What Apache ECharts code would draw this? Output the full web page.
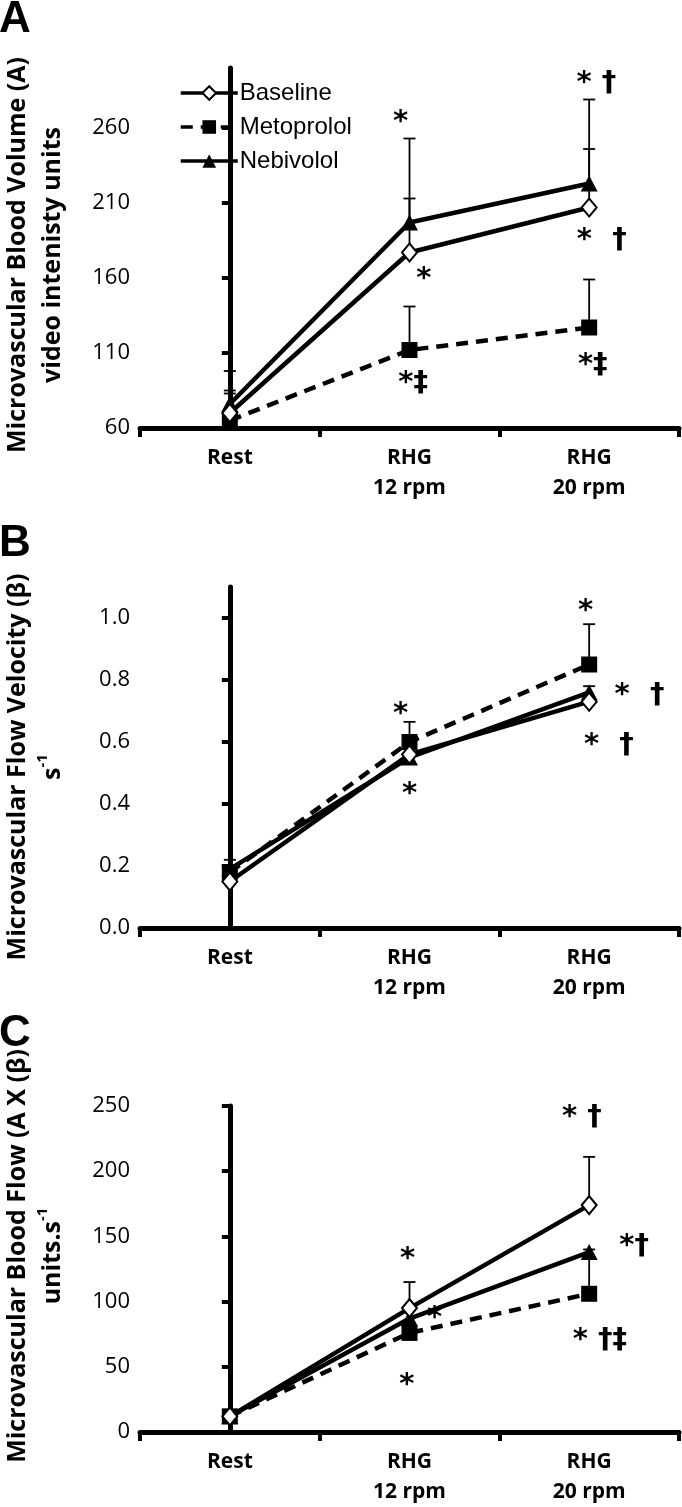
<!DOCTYPE html>
<html>
<head>
<meta charset="utf-8">
<script src="https://cdn.jsdelivr.net/npm/echarts@6/dist/echarts.min.js"></script>
<style>
  html, body { margin: 0; padding: 0; background: #fff; }
  #myChart { width: 682px; height: 1507px; }
</style>
</head>
<body>
<div id="myChart"></div>
<script>
const categories = ['Rest', 'RHG\n12 rpm', 'RHG\n20 rpm'];
const seriesNames = ['Baseline', 'Metoprolol', 'Nebivolol'];

// A - microvascular blood volume
const volBaseline = [70, 177, 207];
const volMetoprolol = [65, 112, 127];
const volNebivolol = [76, 197, 223];
// top of error bars
const volBaselineErr = [85, 213, 246];
const volMetoprololErr = [83, 141, 159];
const volNebivololErr = [98, 253, 279];
const volTicks = [60, 110, 160, 210, 260];

// B - microvascular flow velocity
const velBaseline = [0.15, 0.56, 0.73];
const velMetoprolol = [0.18, 0.60, 0.85];
const velNebivolol = [0.19, 0.55, 0.76];
const velMetoprololErr = [0.22, 0.665, 0.98];
const velNebivololErr = [null, null, 0.78];
const velTicks = [0, 0.2, 0.4, 0.6, 0.8, 1.0];

// C - microvascular blood flow
const flowBaseline = [12, 95, 174];
const flowMetoprolol = [12, 76, 106];
const flowNebivolol = [12, 87, 138];
const flowBaselineErr = [null, 115, 211];
const flowMetoprololErr = [null, null, 140];
const flowTicks = [0, 50, 100, 150, 200, 250];

// significance marks: [position along categories (0 = Rest), value, text]
const marksA = [[0.95, 264, '*'], [1.08, 159, '*'], [1.02, 90, '*‡'], [2.04, 290, '* †'], [2.07, 185, '*  †'], [2.02, 102, '*‡']];
const marksB = [[0.95, 0.69, '*'], [1.0, 0.43, '*'], [1.98, 1.02, '*'], [2.28, 0.75, '*  †'], [2.11, 0.59, '*  †']];
const marksC = [[0.99, 132, '*'], [1.14, 87, '*'], [0.985, 36, '*'], [1.96, 241, '* †'], [2.25, 142, '*†'], [2.06, 70, '* †‡']];

const font = 'Open Sans';
const black = '#000';

const grids = [
  { left: 140, right: 3, top: 68, height: 360 },
  { left: 140, right: 3, top: 587, height: 341 },
  { left: 140, right: 3, top: 1106, height: 326 }
];

function catAxis(i) {
  return {
    type: 'category', gridIndex: i, data: categories, boundaryGap: true,
    axisLine: { lineStyle: { color: black, width: 5 } },
    axisTick: { show: true, length: 9, lineStyle: { color: black, width: 4 } },
    axisLabel: { color: black, fontFamily: font, fontWeight: 'bold', fontSize: 21, lineHeight: 30, margin: 15 }
  };
}
function markAxis(i) {
  return { type: 'value', gridIndex: i, min: -0.5, max: 2.5, show: false };
}
function valAxis(i, min, max, ticks, fmt) {
  return {
    type: 'value', gridIndex: i, min: min, max: max,
    splitLine: { show: false },
    axisLine: { show: true, lineStyle: { color: black, width: 5 } },
    axisTick: { show: true, length: 8, customValues: ticks, lineStyle: { color: black, width: 4 } },
    axisLabel: { color: black, fontFamily: font, fontSize: 22, margin: 10, customValues: ticks, formatter: fmt }
  };
}

function lineSeries(name, data, i) {
  const s = {
    name: name, type: 'line', data: data, xAxisIndex: i, yAxisIndex: i, z: 3,
    lineStyle: { color: black, width: 4.5 },
    itemStyle: { color: black }
  };
  if (name === 'Baseline') {
    s.symbol = 'diamond'; s.symbolSize = [15, 18];
    s.itemStyle = { color: '#fff', borderColor: black, borderWidth: 2 };
    s.z = 4;
  } else if (name === 'Metoprolol') {
    s.symbol = 'rect'; s.symbolSize = 16;
    s.lineStyle.type = [12, 8];
  } else {
    s.symbol = 'triangle'; s.symbolSize = [17, 16];
  }
  return s;
}

function errSeries(means, tops, i) {
  const data = [];
  means.forEach(function (m, k) {
    if (tops[k] != null) data.push([k, m, tops[k]]);
  });
  return {
    type: 'custom', xAxisIndex: i, yAxisIndex: i, z: 2, silent: true, data: data,
    renderItem: function (params, api) {
      const lo = api.coord([api.value(0), api.value(1)]);
      const hi = api.coord([api.value(0), api.value(2)]);
      const w = 6;
      return {
        type: 'group', children: [
          { type: 'line', shape: { x1: lo[0], y1: lo[1], x2: hi[0], y2: hi[1] }, style: { stroke: black, lineWidth: 1.8 } },
          { type: 'line', shape: { x1: hi[0] - w, y1: hi[1], x2: hi[0] + w, y2: hi[1] }, style: { stroke: black, lineWidth: 1.8 } }
        ]
      };
    }
  };
}

function markSeries(marks, i) {
  return {
    type: 'scatter', xAxisIndex: i + 3, yAxisIndex: i, silent: true, z: 5,
    symbolSize: 1, itemStyle: { color: 'transparent', opacity: 1 },
    label: {
      show: true, position: 'inside', formatter: '{b}', color: black, opacity: 1,
      fontFamily: 'DejaVu Sans', fontWeight: 'bold', fontSize: 29, textBorderWidth: 0
    },
    data: marks.map(function (m) { return { name: m[2], value: [m[0], m[1]] }; })
  };
}

const panelData = [
  [volBaseline, volMetoprolol, volNebivolol],
  [velBaseline, velMetoprolol, velNebivolol],
  [flowBaseline, flowMetoprolol, flowNebivolol]
];

const series = [];
panelData.forEach(function (set, i) {
  set.forEach(function (d, k) { series.push(lineSeries(seriesNames[k], d, i)); });
});
series.push(errSeries(volBaseline, volBaselineErr, 0));
series.push(errSeries(volMetoprolol, volMetoprololErr, 0));
series.push(errSeries(volNebivolol, volNebivololErr, 0));
series.push(errSeries(velMetoprolol, velMetoprololErr, 1));
series.push(errSeries(velNebivolol, velNebivololErr, 1));
series.push(errSeries(flowBaseline, flowBaselineErr, 2));
series.push(errSeries(flowMetoprolol, flowMetoprololErr, 2));
series.push(markSeries(marksA, 0));
series.push(markSeries(marksB, 1));
series.push(markSeries(marksC, 2));

function axisTitle(y, line1, line2) {
  return {
    type: 'text', x: 35, y: y, rotation: Math.PI / 2,
    style: {
      text: '{t|' + line1 + '}\n' + line2,
      align: 'center', verticalAlign: 'middle',
      rich: {
        t: { fontFamily: font, fontWeight: 'bold', fontSize: 25, lineHeight: 35, fill: black },
        sup: { fontFamily: font, fontWeight: 'bold', fontSize: 15, lineHeight: 35, verticalAlign: 'top', fill: black }
      }
    }
  };
}
function panelLetter(y, txt) {
  return { type: 'text', x: -1, y: y, style: { text: txt, fontFamily: 'Liberation Sans', fontWeight: 'bold', fontSize: 44, fill: black } };
}

const option = {
  animation: false,
  backgroundColor: '#fff',
  grid: grids,
  legend: {
    data: seriesNames, orient: 'vertical', left: 174, top: 76,
    itemWidth: 57, itemHeight: 17, itemGap: 10,
    lineStyle: { width: 3.5 },
    textStyle: { fontFamily: 'Liberation Sans', fontSize: 24, color: black, padding: [0, 0, 0, -3] }
  },
  xAxis: [catAxis(0), catAxis(1), catAxis(2), markAxis(0), markAxis(1), markAxis(2)],
  yAxis: [
    valAxis(0, 60, 300, volTicks, function (v) { return String(v); }),
    valAxis(1, 0, 1.1, velTicks, function (v) { return v.toFixed(1); }),
    valAxis(2, 0, 250, flowTicks, function (v) { return String(v); })
  ],
  series: series,
  graphic: [
    panelLetter(-2, 'A'), panelLetter(522, 'B'), panelLetter(1012, 'C'),
    axisTitle(255, 'Microvascular Blood Volume (A)', '{t|video intenisty units}'),
    axisTitle(767, 'Microvascular Flow Velocity (β)', '{t|s}{sup|-1}'),
    axisTitle(1256, 'Microvascular Blood Flow (A X (β)', '{t|units.s}{sup|-1}')
  ]
};

const chart = echarts.init(document.getElementById('myChart'));
chart.setOption(option);
</script>
</body>
</html>
